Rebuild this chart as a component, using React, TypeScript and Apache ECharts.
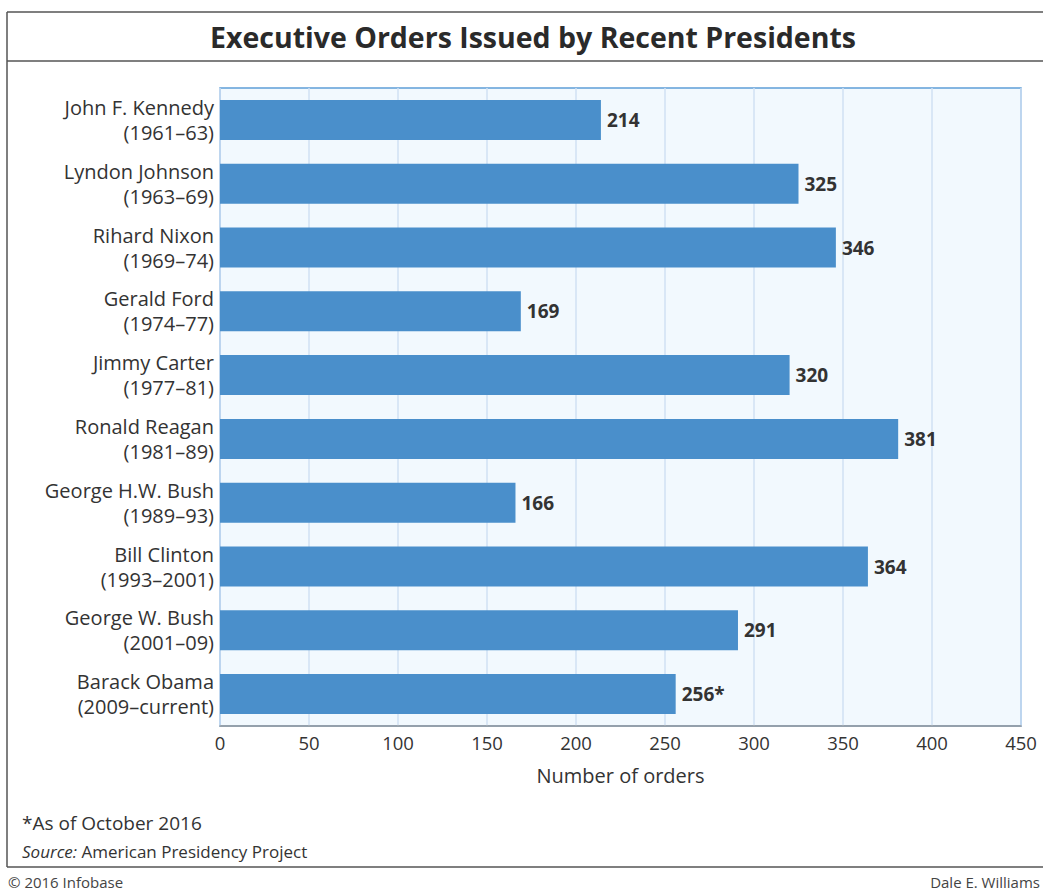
import React, { useEffect, useRef } from "react";
import * as echarts from "echarts";

const presidents = [
  "John F. Kennedy",
  "Lyndon Johnson",
  "Rihard Nixon",
  "Gerald Ford",
  "Jimmy Carter",
  "Ronald Reagan",
  "George H.W. Bush",
  "Bill Clinton",
  "George W. Bush",
  "Barack Obama",
];
const terms = [
  "(1961–63)",
  "(1963–69)",
  "(1969–74)",
  "(1974–77)",
  "(1977–81)",
  "(1981–89)",
  "(1989–93)",
  "(1993–2001)",
  "(2001–09)",
  "(2009–current)",
];
const orders = [214, 325, 346, 169, 320, 381, 166, 364, 291, 256];
const valueSuffix = ["", "", "", "", "", "", "", "", "", "*"];
const xTicks = [0, 50, 100, 150, 200, 250, 300, 350, 400, 450];

const FONT = "'Open Sans', 'Noto Sans', sans-serif";

export default function App() {
  const ref = useRef<HTMLDivElement>(null);
  useEffect(() => {
    if (!ref.current) return;
    const chart = echarts.init(ref.current, undefined, { renderer: "svg" });
    const categories = presidents.map((p, i) => p + "\n" + terms[i]);
    const option = {
      animation: false,
      backgroundColor: "#ffffff",
      textStyle: { fontFamily: FONT },
      grid: {
        left: 220,
        top: 88,
        right: 22,
        bottom: 166,
        show: true,
        backgroundColor: "#f2f9fe",
        borderColor: "#5f9fd8",
        borderWidth: 1.5,
        containLabel: false,
      },
      xAxis: {
        type: "value",
        min: xTicks[0],
        max: xTicks[xTicks.length - 1],
        interval: 50,
        name: "Number of orders",
        nameLocation: "middle",
        nameGap: 39,
        nameTextStyle: { fontSize: 20, color: "#333", fontFamily: FONT },
        axisLine: { show: true, lineStyle: { color: "#9a9a9a", width: 1.5 } },
        axisTick: { show: false },
        axisLabel: { fontSize: 18.5, color: "#333", margin: 7, fontFamily: FONT },
        splitLine: { show: true, lineStyle: { color: "#d0e0f3", width: 1.5 } },
      },
      yAxis: {
        type: "category",
        data: categories,
        inverse: true,
        axisLine: { show: false },
        axisTick: { show: false },
        axisLabel: {
          fontSize: 20,
          color: "#333",
          lineHeight: 25,
          margin: 6,
          align: "right",
          fontFamily: FONT,
        },
        splitLine: { show: false },
      },
      series: [
        {
          type: "bar",
          data: orders,
          barWidth: 40,
          itemStyle: { color: "#4a8fcb" },
          label: {
            show: true,
            position: "right",
            distance: 6,
            fontSize: 19,
            fontWeight: "bold",
            color: "#333",
            fontFamily: FONT,
            formatter: (p: any) => String(p.value) + valueSuffix[p.dataIndex],
          },
        },
      ],
      graphic: [
        { type: "line", shape: { x1: 7, y1: 12, x2: 1043, y2: 12 }, style: { stroke: "#555", lineWidth: 1.5 } },
        { type: "line", shape: { x1: 7, y1: 61, x2: 1043, y2: 61 }, style: { stroke: "#555", lineWidth: 1.5 } },
        { type: "line", shape: { x1: 7, y1: 867, x2: 1043, y2: 867 }, style: { stroke: "#555", lineWidth: 1.5 } },
        { type: "line", shape: { x1: 7, y1: 12, x2: 7, y2: 867 }, style: { stroke: "#555", lineWidth: 1.5 } },
        {
          type: "text",
          x: 533,
          y: 37,
          style: {
            text: "Executive Orders Issued by Recent Presidents",
            fontSize: 28.5,
            fontWeight: "bold",
            fill: "#2a2a2a",
            fontFamily: FONT,
            align: "center",
            verticalAlign: "middle",
          },
        },
        {
          type: "text",
          x: 22,
          y: 823,
          style: {
            text: "*As of October 2016",
            fontSize: 19,
            fill: "#333",
            fontFamily: FONT,
            verticalAlign: "middle",
          },
        },
        {
          type: "text",
          x: 22,
          y: 851,
          style: {
            text: "{i|Source:} American Presidency Project",
            fontSize: 17,
            fill: "#333",
            fontFamily: FONT,
            verticalAlign: "middle",
            rich: {
              i: { fontStyle: "italic", fontSize: 17, fill: "#333", fontFamily: FONT },
            },
          },
        },
        {
          type: "text",
          x: 8,
          y: 882,
          style: {
            text: "© 2016 Infobase",
            fontSize: 15,
            fill: "#444",
            fontFamily: FONT,
            verticalAlign: "middle",
          },
        },
        {
          type: "text",
          x: 1040,
          y: 882,
          style: {
            text: "Dale E. Williams",
            fontSize: 15,
            fill: "#444",
            fontFamily: FONT,
            align: "right",
            verticalAlign: "middle",
          },
        },
      ],
    };
    chart.setOption(option as any);
    return () => chart.dispose();
  }, []);
  return (
    <div
      ref={ref}
      style={{ position: "fixed", left: 0, top: 0, width: 1043, height: 892 }}
    />
  );
}
